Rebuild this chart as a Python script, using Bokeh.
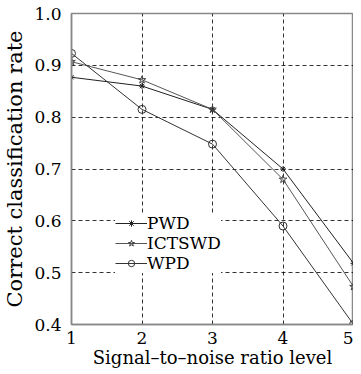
from bokeh.plotting import figure
from bokeh.models import Legend, LegendItem, FixedTicker, Range1d, CustomJSTickFormatter
from bokeh.embed import file_html
from bokeh.resources import INLINE

snr_levels = [1, 2, 3, 4, 5]
pwd = [0.877, 0.860, 0.815, 0.700, 0.518]
ictswd = [0.907, 0.872, 0.815, 0.680, 0.473]
wpd = [0.923, 0.815, 0.748, 0.590, 0.400]
x_ticks = [1, 2, 3, 4, 5]
y_ticks = [0.4, 0.5, 0.6, 0.7, 0.8, 0.9, 1.0]

FONT = "DejaVu Serif"

p = figure(width=353, height=370, output_backend="svg", toolbar_location=None,
           x_range=Range1d(1, 5), y_range=Range1d(0.4, 1.0),
           min_border_left=64, min_border_top=13, min_border_right=0, min_border_bottom=40)

p.outline_line_color = "#888888"
p.outline_line_width = 1.5

for ax in (p.xaxis[0], p.yaxis[0]):
    ax.axis_line_color = "#888888"
    ax.axis_line_width = 1.5
    ax.major_tick_line_color = None
    ax.minor_tick_line_color = None
    ax.major_label_text_font = FONT
    ax.major_label_text_font_size = "17px"
    ax.major_label_text_color = "black"
    ax.axis_label_text_font = FONT
    ax.axis_label_text_font_style = "normal"
    ax.axis_label_text_color = "black"

p.xaxis.axis_label_text_font_size = "18px"
p.yaxis.axis_label_text_font_size = "21px"
p.xaxis.ticker = FixedTicker(ticks=x_ticks)
p.yaxis.ticker = FixedTicker(ticks=y_ticks)
p.yaxis.formatter = CustomJSTickFormatter(code="return tick.toFixed(1);")
p.xaxis.major_label_standoff = 1
p.yaxis.major_label_standoff = 4
p.xaxis.axis_label = "Signal\u2013to\u2013noise ratio level"
p.yaxis.axis_label = "Correct classification rate"
p.xaxis.axis_label_standoff = 0
p.yaxis.axis_label_standoff = 4

for g in (p.xgrid[0], p.ygrid[0]):
    g.grid_line_color = "black"
    g.grid_line_dash = "4 3"
    g.grid_line_width = 1
    g.grid_line_alpha = 0.8

l1 = p.line(snr_levels, pwd, line_color="#222222", line_width=1)
m1 = p.scatter(snr_levels, pwd, marker="asterisk", size=6, line_color="#222222")
l2 = p.line(snr_levels, ictswd, line_color="#555555", line_width=1)
m2 = p.scatter(snr_levels, ictswd, marker="star", size=8, line_color="#444444", fill_color=None)
l3 = p.line(snr_levels, wpd, line_color="#333333", line_width=1)
m3 = p.scatter(snr_levels, wpd, marker="circle", size=8, line_color="#333333", fill_color=None)

legend = Legend(items=[
    LegendItem(label="PWD", renderers=[l1, m1]),
    LegendItem(label="ICTSWD", renderers=[l2, m2]),
    LegendItem(label="WPD", renderers=[l3, m3]),
], location=(44, 51))
legend.border_line_color = None
legend.background_fill_color = "white"
legend.background_fill_alpha = 1
legend.label_text_font = FONT
legend.label_text_font_size = "17px"
legend.label_text_color = "black"
legend.glyph_width = 32
legend.glyph_height = 16
legend.label_standoff = 0
legend.label_height = 16
legend.spacing = 0
legend.padding = 2
legend.margin = 0
p.add_layout(legend)

open("out.html", "w").write(file_html(p, INLINE))
